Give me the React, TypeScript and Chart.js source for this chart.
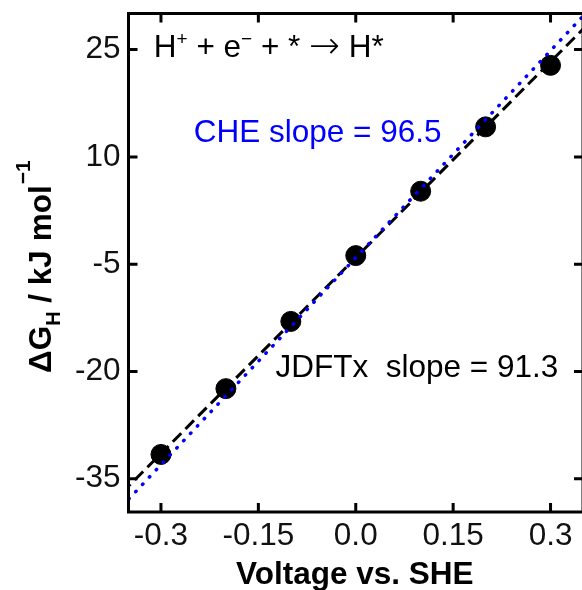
import React, { useEffect, useRef } from "react";
import { Chart, registerables } from "chart.js";

Chart.register(...registerables);

// ---- data ----
const voltages = [-0.3, -0.2, -0.1, 0.0, 0.1, 0.2, 0.3];
const deltaGH = [-31.6, -22.4, -13.0, -3.8, 5.2, 14.2, 22.8];

const fitX = [-0.36, 0.36];
const jdftxFitY = [-36.96, 28.78]; // slope 91.3
const cheFitY = [-38.84, 30.64]; // slope 96.5

const xTickValues = [-0.3, -0.15, 0.0, 0.15, 0.3];
const xTickLabels = ["-0.3", "-0.15", "0.0", "0.15", "0.3"];
const yTickValues = [-35, -20, -5, 10, 25];
const yTickLabels = ["-35", "-20", "-5", "10", "25"];

const FONT = "'Liberation Sans', Arial, sans-serif";
const ARROW_FONT = "'DejaVu Sans', sans-serif";
const FS = 31.5;

const decorPlugin = {
  id: "decor",
  afterDatasetsDraw(chart: any) {
    const { ctx, chartArea } = chart;
    const { left, right, top, bottom } = chartArea;
    const xs = chart.scales.x;
    const ys = chart.scales.y;
    ctx.save();
    // frame
    ctx.strokeStyle = "#000";
    ctx.lineWidth = 3;
    ctx.lineCap = "butt";
    ctx.strokeRect(left, top, right - left, bottom - top);
    // inward ticks
    const TL = 9;
    ctx.beginPath();
    for (const v of xTickValues) {
      const px = xs.getPixelForValue(v);
      ctx.moveTo(px, bottom);
      ctx.lineTo(px, bottom - TL);
      ctx.moveTo(px, top);
      ctx.lineTo(px, top + TL);
    }
    for (const v of yTickValues) {
      const py = ys.getPixelForValue(v);
      ctx.moveTo(left, py);
      ctx.lineTo(left + TL, py);
      ctx.moveTo(right, py);
      ctx.lineTo(right - TL, py);
    }
    ctx.stroke();

    ctx.textAlign = "left";
    ctx.textBaseline = "alphabetic";

    // segments: [text, size, dy, family?, weight?]
    const drawSegs = (
      x0: number,
      y0: number,
      segs: [string, number, number, string?, string?][],
      color: string
    ) => {
      let cx = x0;
      ctx.fillStyle = color;
      for (const [t, size, dy, fam, weight] of segs) {
        ctx.font = `${weight || "normal"} ${size}px ${fam || FONT}`;
        ctx.fillText(t, cx, y0 + dy);
        cx += ctx.measureText(t).width;
      }
    };
    const rx = xs.getPixelForValue(-0.311);
    const ry = ys.getPixelForValue(23.9);
    drawSegs(rx, ry, [
      ["H", FS, 0],
      ["+", 19, -12],
      [" + e", FS, 0],
      ["\u2212", 19, -12],
      [" + * ", FS, 0],
      ["\u2192", 37, 1, ARROW_FONT, "200"],
      [" H*", FS, 0],
    ], "#000");

    // CHE text
    drawSegs(xs.getPixelForValue(-0.2495), ys.getPixelForValue(12.08), [["CHE slope = 96.5", FS, 0]], "#0000ff");
    // JDFTx text
    drawSegs(xs.getPixelForValue(-0.1235), ys.getPixelForValue(-20.8), [["JDFTx  slope = 91.3", FS, 0]], "#000");

    // x title
    ctx.fillStyle = "#000";
    ctx.font = `bold ${FS}px ${FONT}`;
    ctx.textAlign = "center";
    ctx.fillText("Voltage vs. SHE", (left + right - 2) / 2, 584);

    // y title (rotated)
    ctx.save();
    ctx.translate(51, 373);
    ctx.rotate(-Math.PI / 2);
    ctx.textAlign = "left";
    let cx = 0;
    ctx.font = `bold ${FS}px ${FONT}`;
    ctx.fillText("\u0394G", cx, 0);
    cx += ctx.measureText("\u0394G").width;
    ctx.font = `bold 20px ${FONT}`;
    ctx.fillText("H", cx, 9);
    cx += ctx.measureText("H").width;
    ctx.font = `bold ${FS}px ${FONT}`;
    ctx.fillText(" / kJ mol", cx, 0);
    cx += ctx.measureText(" / kJ mol").width;
    ctx.font = `bold 21px ${FONT}`;
    ctx.fillText("\u22121", cx + 1, -21);
    ctx.restore();

    ctx.restore();
  },
};

export default function App() {
  const canvasRef = useRef<HTMLCanvasElement | null>(null);

  useEffect(() => {
    const canvas = canvasRef.current;
    if (!canvas) return;
    const chart = new Chart(canvas, {
      type: "scatter",
      data: {
        datasets: [
          {
            label: "CHE",
            type: "line",
            data: fitX.map((x, i) => ({ x, y: cheFitY[i] })),
            borderColor: "#0000ff",
            borderWidth: 3.5,
            borderDash: [0.5, 9.5],
            borderCapStyle: "round",
            pointRadius: 0,
            fill: false,
            order: 1,
          },
          {
            label: "JDFTx fit",
            type: "line",
            data: fitX.map((x, i) => ({ x, y: jdftxFitY[i] })),
            borderColor: "#000",
            borderWidth: 3,
            borderDash: [12, 6],
            pointRadius: 0,
            fill: false,
            order: 2,
          },
          {
            label: "JDFTx",
            data: voltages.map((x, i) => ({ x, y: deltaGH[i] })),
            backgroundColor: "#000",
            borderColor: "#000",
            pointRadius: 10,
            pointHoverRadius: 10,
            order: 3,
          },
        ],
      } as any,
      options: {
        animation: false,
        responsive: false,
        devicePixelRatio: 1,
        events: [],
        layout: { padding: { left: 0, top: 13.5, right: 17, bottom: 0 } },
        plugins: { legend: { display: false }, tooltip: { enabled: false } },
        scales: {
          x: {
            type: "linear",
            min: -0.35,
            max: 0.35,
            afterBuildTicks: (s: any) => {
              s.ticks = xTickValues.map((v) => ({ value: v }));
            },
            afterFit: (s: any) => {
              s.height = 78;
              s.paddingLeft = 0;
              s.paddingRight = 0;
              s.paddingTop = 0;
              s.paddingBottom = 0;
            },
            ticks: {
              callback: (_v: any, i: number) => xTickLabels[i],
              font: { family: FONT, size: FS },
              color: "#111",
              padding: 5,
              maxRotation: 0,
              autoSkip: false,
            },
            grid: { display: false, drawTicks: false },
            border: { display: false },
          },
          y: {
            type: "linear",
            min: -39.65,
            max: 30.05,
            afterBuildTicks: (s: any) => {
              s.ticks = yTickValues.map((v) => ({ value: v }));
            },
            afterFit: (s: any) => {
              s.width = 128.5;
              s.paddingLeft = 0;
              s.paddingRight = 0;
              s.paddingTop = 0;
              s.paddingBottom = 0;
            },
            ticks: {
              callback: (_v: any, i: number) => yTickLabels[i],
              font: { family: FONT, size: FS },
              color: "#111",
              padding: 8,
              autoSkip: false,
            },
            grid: { display: false, drawTicks: false },
            border: { display: false },
          },
        },
      } as any,
      plugins: [decorPlugin],
    });
    return () => chart.destroy();
  }, []);

  return (
    <div
      style={{
        position: "fixed",
        left: 0,
        top: 0,
        width: 582,
        height: 590,
        overflow: "hidden",
        background: "#fff",
      }}
    >
      <canvas ref={canvasRef} width={600} height={590} style={{ display: "block" }} />
    </div>
  );
}
